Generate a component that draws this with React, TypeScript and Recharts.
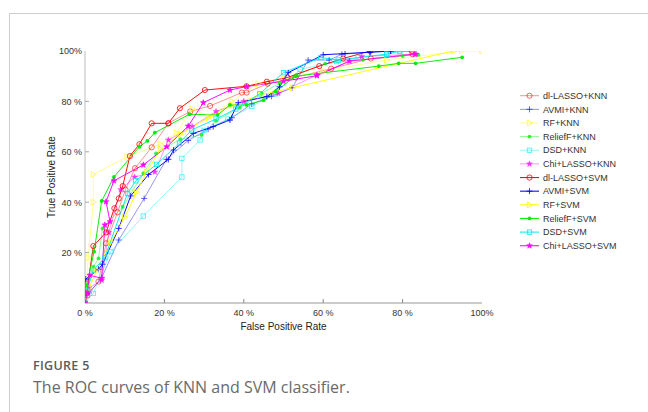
import React from 'react';
import { LineChart, Line, XAxis, YAxis, Label } from 'recharts';

type P = [number, number];

// ROC points: [False Positive Rate %, True Positive Rate %]
const dlLassoKnn: P[] = [[0,0],[0.6,3],[3.4,8.5],[5.3,23.7],[8.2,36],[10.2,45],[12.6,53.5],[16.8,61.8],[21,71.3],[26.5,76],[31.5,78.2],[39.5,83.5],[40.7,83.5],[46,87],[53,89.5],[62,93],[72,97],[82.5,98.7]];
const avmiKnn: P[] = [[0,0],[1,4],[4.2,10],[8.5,25],[14.9,41.5],[20.5,57],[26,64.5],[31,69],[37,73.5],[42,79],[47,82],[52.2,85.4],[56.2,96.4],[61.5,96.4],[64.7,98.7],[71.8,99.5],[77,100]];
const rfKnn: P[] = [[0,0],[0.8,18],[2.1,40],[2.1,51],[10.6,58],[19,63],[23,67.5],[27,77],[31.4,74],[37,80],[43.6,87],[50,89],[60,92],[76,96.4],[94.9,100],[100,100]];
const reliefKnn: P[] = [[0,0],[0.4,4],[2.1,14.4],[3.4,17.7],[4.4,29.6],[9.5,38.2],[14.7,51.5],[17.9,59.4],[24,65],[29.4,66.7],[33,72.3],[39,77.5],[44.5,83.2],[49,87.2],[53.3,90.5],[60.5,95],[70,96.5],[80,98],[84,98.5]];
const dsdKnn: P[] = [[0,0],[2.1,3.8],[6.5,20.4],[14.7,34.5],[24.4,50],[24.4,57.4],[29,64.7],[30,68.5],[36,73],[42,78],[48,83],[54.2,92.7],[63.4,95.8],[68.8,97.5],[76,98.8],[79.2,100]];
const chiKnn: P[] = [[0,0],[1,6],[4.2,9],[6,28],[9,45],[12.5,50],[17.6,52],[21,64.7],[27,70],[33,76],[40,80],[48.7,83.2],[58.4,90.5],[69.7,97.8],[83.4,98.8]];
const dlLassoSvm: P[] = [[0,0],[0.4,4],[2.1,22.6],[5.3,28],[7.4,37.6],[8.5,41.5],[9.5,46.4],[11.3,58.3],[13.7,63],[16.8,71.3],[21,71.3],[23.9,77.3],[30.2,84.5],[40.7,86],[45.8,87.8],[51,89.5],[59,94],[65,97],[71.8,100],[82.3,100]];
const avmiSvm: P[] = [[0,0],[0.2,9.5],[3.4,13.4],[4.4,15.4],[8.5,29.6],[11.5,42.5],[16,51],[21,57],[22.3,60.7],[27.3,67.3],[32.3,70],[36.5,72.6],[38.6,79.5],[45.8,81.9],[49,85.8],[51.2,91.4],[60,98.5],[65.5,99],[71.8,99.5],[77,100]];
const rfSvm: P[] = [[0,0],[1,6],[3,13],[6.5,24],[10,34],[13,44],[15.5,52],[19,61],[24,67],[31,73.5],[37,78.5],[44,82.5],[52.2,85.4],[92.8,100]];
const reliefSvm: P[] = [[0,0],[0.4,7],[2.3,20.4],[4.2,40.5],[7.3,50],[13.7,62],[15.7,64.3],[17.6,67.6],[26.3,74.9],[33.4,74.6],[36.5,78.6],[40.7,78.6],[45,80.5],[48,84],[53,90],[74,94],[79,95.1],[83.3,95.1],[95,97.5]];
const dsdSvm: P[] = [[0,0],[0.5,5],[2.1,13.1],[5,18],[10.7,43.5],[12.8,48.5],[18,55],[23.8,63.4],[26.9,68.7],[33,73],[38,77],[44,83],[50,91.4],[59.4,97.4],[63.8,96.4],[76,98.7],[79.3,100]];
const chiSvm: P[] = [[0,0],[0.5,4],[1.2,11],[4.2,9.8],[5,31],[6.3,32.3],[5.3,40.2],[7.3,48.5],[14.7,54.8],[20.6,62],[26,70.2],[29.8,79.5],[36.5,84.5],[40.7,85.9],[50,88],[58.4,90.2],[66.6,96],[83.1,98.7]];

const seriesNames = ['dl-LASSO+KNN','AVMI+KNN','RF+KNN','ReliefF+KNN','DSD+KNN','Chi+LASSO+KNN','dl-LASSO+SVM','AVMI+SVM','RF+SVM','ReliefF+SVM','DSD+SVM','Chi+LASSO+SVM'];
const seriesData: P[][] = [dlLassoKnn, avmiKnn, rfKnn, reliefKnn, dsdKnn, chiKnn, dlLassoSvm, avmiSvm, rfSvm, reliefSvm, dsdSvm, chiSvm];
const baseColors = ['#ff0000','#0000ff','#ffff00','#00ee00','#00eeee','#ff00ff'];
const markers = ['circle','plus','tri','dot','square','star'];

const xTicks = [0, 20, 40, 60, 80, 100];
const yTicks = [20, 40, 60, 80, 100];
const innerTicks = [20, 40, 60, 80];

const pctLabel = (v: number) => (v === 100 ? '100%' : `${v} %`);

const FONT = '"Liberation Sans", Arial, sans-serif';

function Marker({ kind, cx, cy, color, op }: { kind: string; cx: number; cy: number; color: string; op: number }) {
  const sw = 0.8;
  switch (kind) {
    case 'circle':
      return <circle cx={cx} cy={cy} r={2.6} fill="none" stroke={color} strokeWidth={sw} opacity={op} />;
    case 'plus':
      return (
        <g opacity={op} stroke={color} strokeWidth={sw}>
          <line x1={cx - 3} x2={cx + 3} y1={cy} y2={cy} />
          <line x1={cx} x2={cx} y1={cy - 3} y2={cy + 3} />
        </g>
      );
    case 'tri':
      return (
        <polygon
          points={`${cx + 3.1},${cy} ${cx - 2.2},${cy - 3} ${cx - 2.2},${cy + 3}`}
          fill="none" stroke={color} strokeWidth={sw} opacity={op}
        />
      );
    case 'dot':
      return <circle cx={cx} cy={cy} r={1.9} fill={color} opacity={op} />;
    case 'square':
      return <rect x={cx - 2.2} y={cy - 2.2} width={4.4} height={4.4} fill="none" stroke={color} strokeWidth={sw} opacity={op} />;
    default: {
      const pts: string[] = [];
      for (let i = 0; i < 10; i++) {
        const r = i % 2 === 0 ? 3.1 : 1.3;
        const a = -Math.PI / 2 + (i * Math.PI) / 5;
        pts.push(`${cx + r * Math.cos(a)},${cy + r * Math.sin(a)}`);
      }
      return <polygon points={pts.join(' ')} fill={color} stroke={color} strokeWidth={0.5} opacity={op} />;
    }
  }
}

const series = seriesNames.map((name, i) => {
  const knn = i < 6;
  return {
    name,
    data: seriesData[i].map(([x, y]) => ({ x, y })),
    color: baseColors[i % 6],
    marker: markers[i % 6],
    knn,
  };
});

const BottomTick = (p: any) => {
  const { x, y, payload } = p;
  const v = payload.value as number;
  return (
    <g>
      {v > 0 && v < 100 && <line x1={x} x2={x} y1={y} y2={y - 4} stroke="#888" strokeWidth={1} />}
      <text x={x} y={y + 13} textAnchor="middle" fontSize={9} fill="#333" fontFamily={FONT}>
        {pctLabel(v)}
      </text>
    </g>
  );
};

const LeftTick = (p: any) => {
  const { x, y, payload } = p;
  const v = payload.value as number;
  return (
    <g>
      {v < 100 && <line x1={x} x2={x + 4} y1={y} y2={y} stroke="#aaa" strokeWidth={1} />}
      <text x={x - 3} y={y + 3.3} textAnchor="end" fontSize={9} fill="#333" fontFamily={FONT}>
        {pctLabel(v)}
      </text>
    </g>
  );
};

const TopTick = (p: any) => {
  const { x, y } = p;
  return <line x1={x} x2={x} y1={y} y2={y + 4} stroke="#999" strokeWidth={1} />;
};

const RightTick = (p: any) => {
  const { x, y } = p;
  return <line x1={x} x2={x - 4} y1={y} y2={y} stroke="#999" strokeWidth={1} />;
};

export default function App() {
  return (
    <div style={{ position: 'absolute', left: 0, top: 0, width: 648, height: 412, overflow: 'hidden', background: '#fff' }}>
      <div style={{ position: 'absolute', left: 9, top: 13, width: 700, height: 460, border: '1px solid #cfcfcf', boxSizing: 'border-box' }} />
      <div style={{ position: 'absolute', left: 0, top: 0 }}>
        <LineChart width={648} height={412} margin={{ top: 51, right: 166, bottom: 79, left: 45 }}>
          <XAxis
            xAxisId={0}
            type="number"
            dataKey="x"
            domain={[0, 100]}
            ticks={xTicks}
            interval={0}
            height={30}
            tickSize={0}
            tickMargin={0}
            tickLine={false}
            axisLine={{ stroke: '#999' }}
            tick={BottomTick}
            allowDataOverflow
          >
            <Label
              content={(lp: any) => {
                const vb = lp.viewBox || {};
                const cx = vb.x + vb.width / 2;
                return (
                  <text x={cx} y={vb.y + 27} textAnchor="middle" fontSize={10} fill="#222" fontFamily={FONT}>
                    False Positive Rate
                  </text>
                );
              }}
            />
          </XAxis>
          <XAxis
            xAxisId="top"
            orientation="top"
            type="number"
            domain={[0, 100]}
            ticks={innerTicks}
            interval={0}
            height={0}
            tickSize={0}
            tickMargin={0}
            tickLine={false}
            axisLine={{ stroke: '#cfcfcf' }}
            tick={TopTick}
          />
          <YAxis
            yAxisId={0}
            type="number"
            domain={[0, 100]}
            ticks={yTicks}
            interval={0}
            width={40}
            tickSize={0}
            tickMargin={0}
            tickLine={false}
            axisLine={{ stroke: '#bbb' }}
            tick={LeftTick}
            allowDataOverflow
          >
            <Label
              content={(lp: any) => {
                const vb = lp.viewBox || {};
                const cx = vb.x + 10;
                const cy = vb.y + vb.height / 2;
                return (
                  <text
                    x={cx}
                    y={cy}
                    transform={`rotate(-90 ${cx} ${cy})`}
                    textAnchor="middle"
                    fontSize={10}
                    fill="#222"
                    fontFamily={FONT}
                  >
                    True Positive Rate
                  </text>
                );
              }}
            />
          </YAxis>
          <YAxis
            yAxisId="right"
            orientation="right"
            type="number"
            domain={[0, 100]}
            ticks={innerTicks}
            interval={0}
            width={0}
            tickSize={0}
            tickMargin={0}
            tickLine={false}
            axisLine={{ stroke: '#888' }}
            tick={RightTick}
          />
          {series.map((s) => (
            <Line
              key={s.name}
              name={s.name}
              data={s.data}
              dataKey="y"
              type="linear"
              stroke={s.color}
              strokeWidth={s.knn ? 0.7 : 1}
              strokeOpacity={s.knn ? 0.6 : 0.95}
              isAnimationActive={false}
              activeDot={false}
              dot={(dp: any) => (
                <g key={`${s.name}-${dp.index}`}>
                  <Marker kind={s.marker} cx={dp.cx} cy={dp.cy} color={s.color} op={s.knn ? 0.75 : 1} />
                </g>
              )}
            />
          ))}
        </LineChart>
      </div>
      <svg style={{ position: 'absolute', left: 515, top: 88 }} width={130} height={166}>
        {series.map((s, i) => {
          const cy = 7.7 + i * 13.64;
          return (
            <g key={s.name}>
              <line x1={5} x2={24} y1={cy} y2={cy} stroke={s.color} strokeWidth={s.knn ? 0.8 : 1.1} strokeOpacity={s.knn ? 0.55 : 0.95} />
              <Marker kind={s.marker} cx={14.5} cy={cy} color={s.color} op={s.knn ? 0.75 : 1} />
              <text x={28} y={cy + 3.2} fontSize={9} fill="#333" fontFamily={FONT}>
                {s.name}
              </text>
            </g>
          );
        })}
      </svg>
      <div style={{ position: 'absolute', left: 33, top: 357, fontFamily: '"Open Sans", sans-serif', fontSize: 12.5, fontWeight: 600, color: '#5a5a5a', letterSpacing: 0.3 }}>
        FIGURE 5
      </div>
      <div style={{ position: 'absolute', left: 33, top: 376, fontFamily: '"Open Sans", sans-serif', fontSize: 16, fontWeight: 400, color: '#6a6a6a' }}>
        The ROC curves of KNN and SVM classifier.
      </div>
    </div>
  );
}
